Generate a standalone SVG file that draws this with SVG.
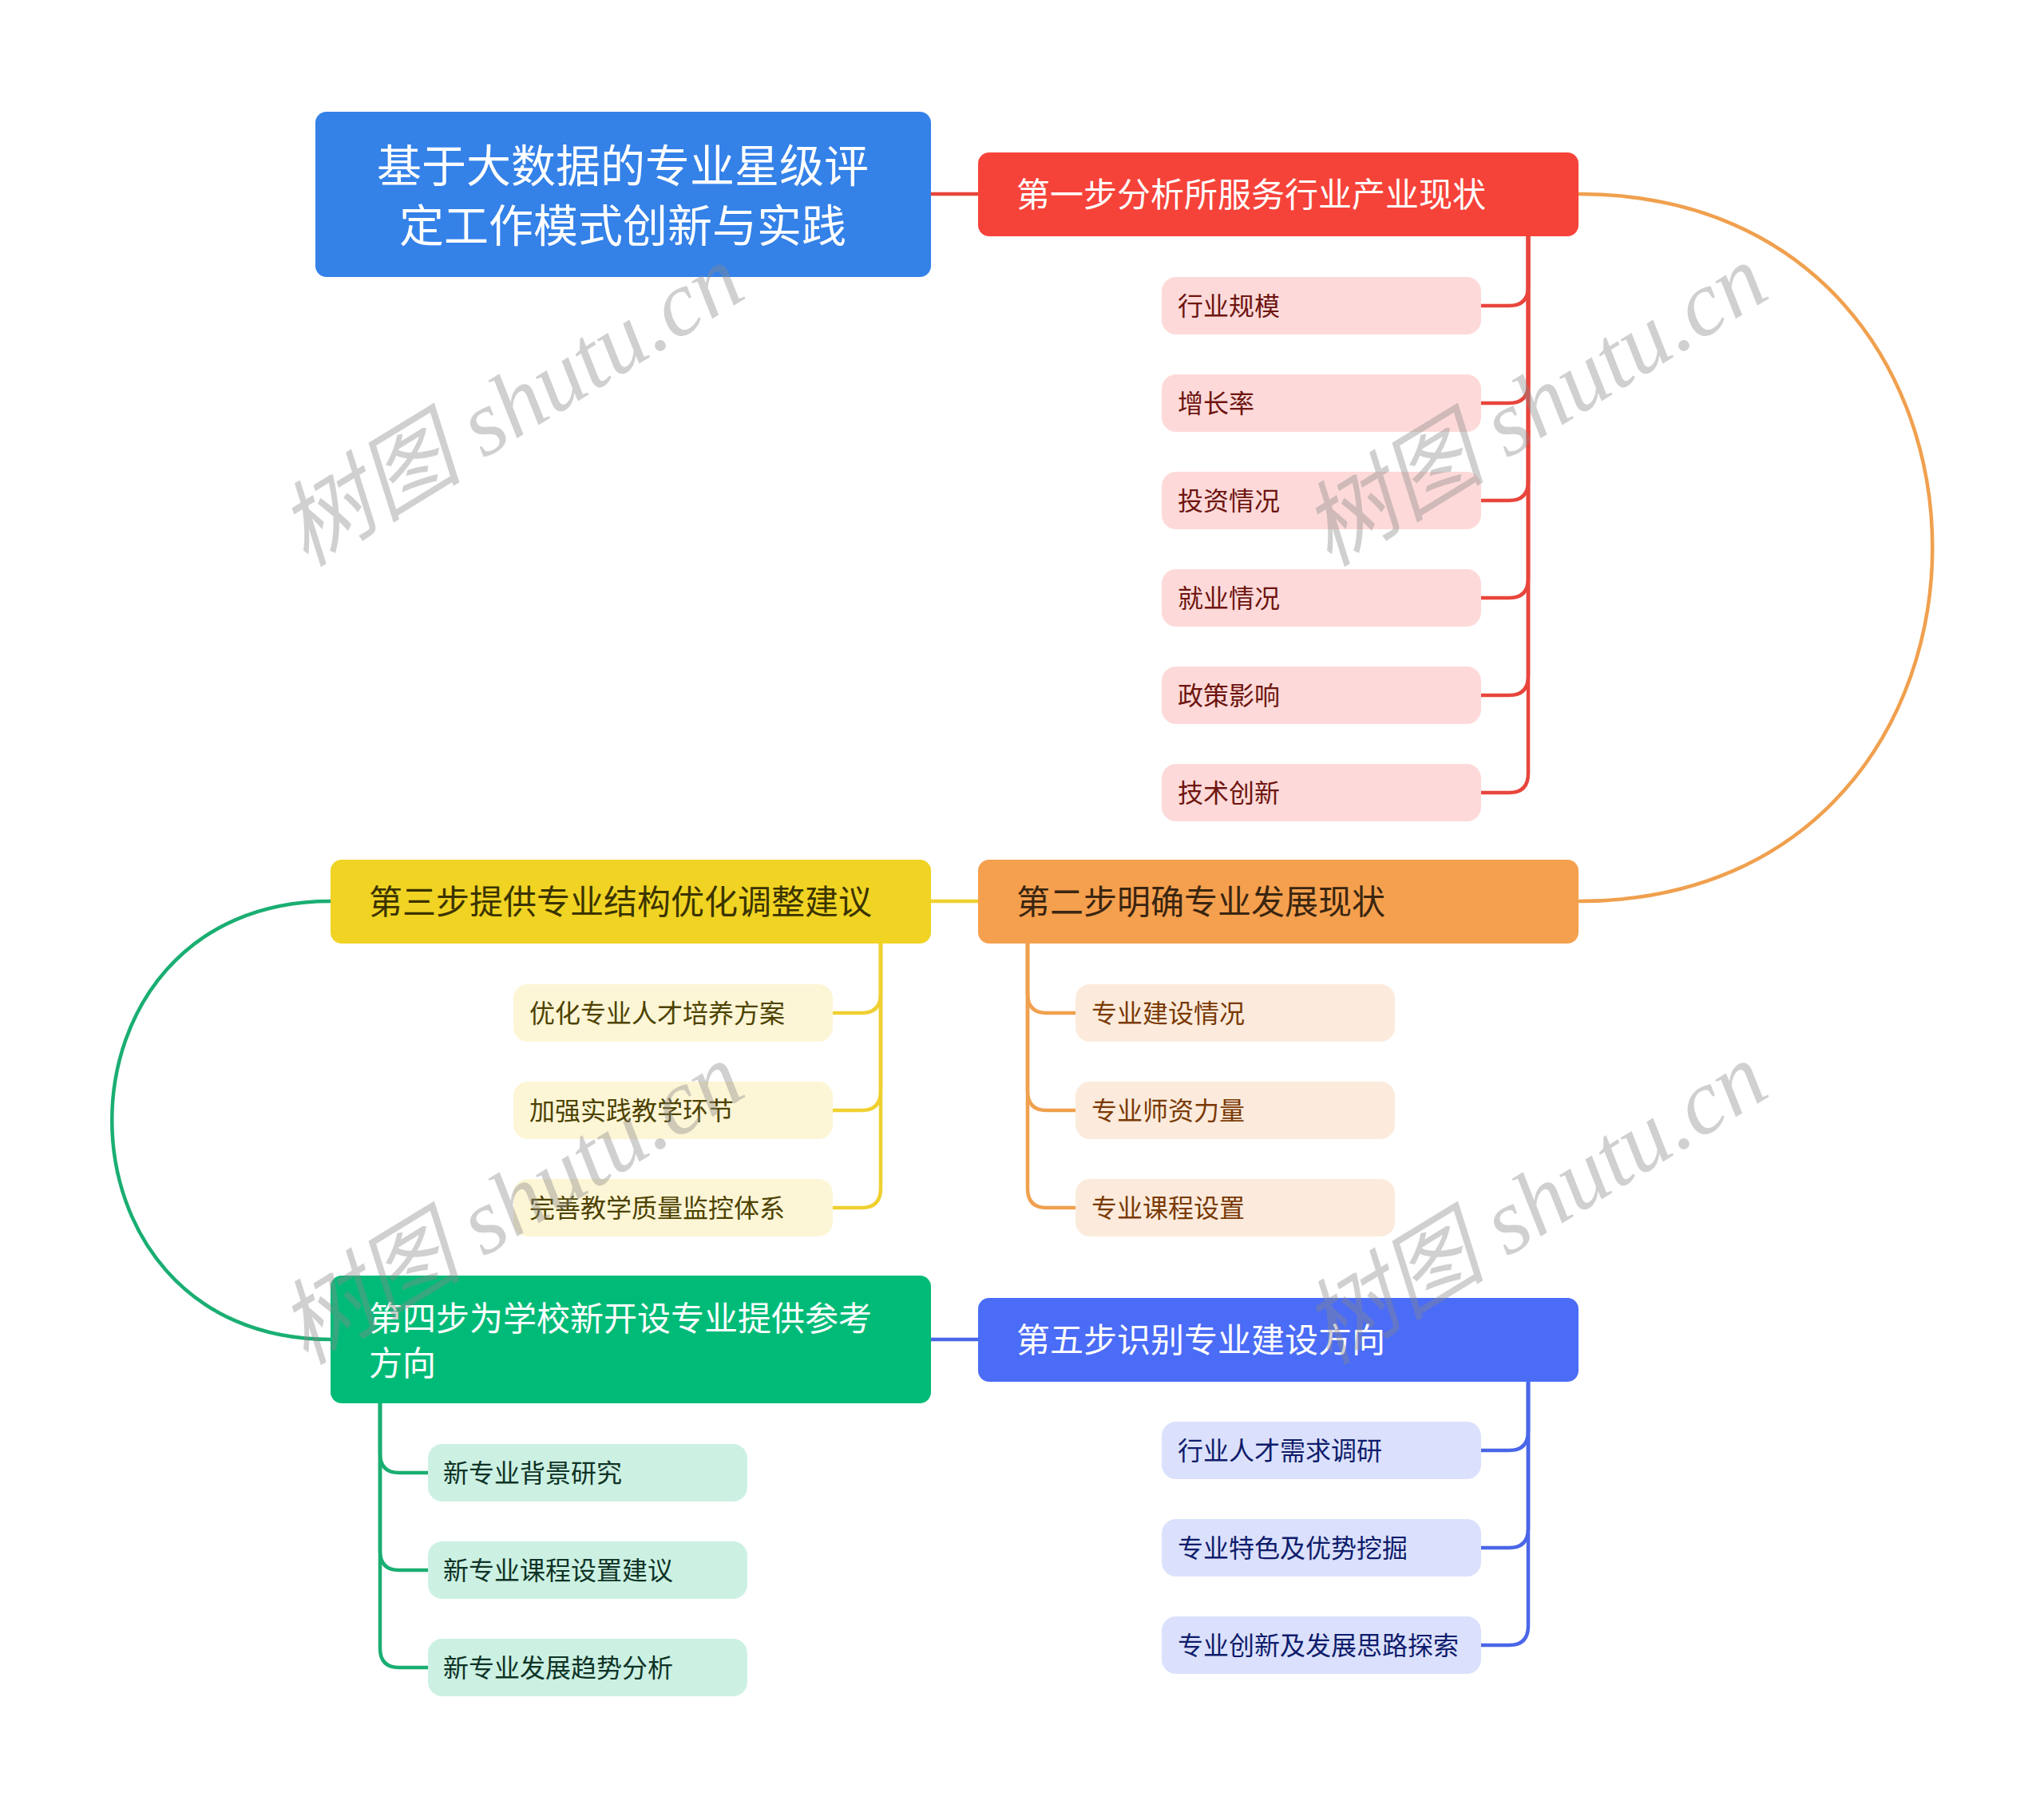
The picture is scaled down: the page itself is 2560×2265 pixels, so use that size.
<svg xmlns="http://www.w3.org/2000/svg" width="2560" height="2265" viewBox="0 0 2560 2265">
<style>
text{font-family:"Noto Sans CJK SC","Noto Sans",sans-serif;dominant-baseline:central}
.main{font-size:42px}
.root{font-size:56px;fill:#fff;text-anchor:middle}
.sub{font-size:32px}
.c{fill:none;stroke-width:4.5;stroke-linecap:round}
.wm{font-family:"Liberation Serif","Noto Sans CJK SC",serif;font-style:italic;font-size:116px;fill:#8a8a8a;fill-opacity:0.4;text-anchor:middle}
</style>
<rect width="2560" height="2265" fill="#fff"/>
<g id="connectors">
<path class="c" stroke="#E8453C" d="M1166,243 H1225"/>
<path class="c" stroke="#F0A04E" d="M1977,243 C2568,243 2568,1129 1977,1129"/>
<path class="c" stroke="#EFD030" d="M1166,1129 H1225"/>
<path class="c" stroke="#1AAE72" d="M414,1129 C49,1129 49,1678 414,1678"/>
<path class="c" stroke="#4A66E8" d="M1166,1678 H1225"/>
<g stroke="#E8453C">
<path class="c" d="M1914,296 V359 Q1914,383 1890,383 H1855"/>
<path class="c" d="M1914,296 V481 Q1914,505 1890,505 H1855"/>
<path class="c" d="M1914,296 V603 Q1914,627 1890,627 H1855"/>
<path class="c" d="M1914,296 V725 Q1914,749 1890,749 H1855"/>
<path class="c" d="M1914,296 V847 Q1914,871 1890,871 H1855"/>
<path class="c" d="M1914,296 V969 Q1914,993 1890,993 H1855"/>
</g>
<g stroke="#EFD030">
<path class="c" d="M1103,1182 V1245 Q1103,1269 1079,1269 H1043"/>
<path class="c" d="M1103,1182 V1367 Q1103,1391 1079,1391 H1043"/>
<path class="c" d="M1103,1182 V1489 Q1103,1513 1079,1513 H1043"/>
</g>
<g stroke="#F0A04E">
<path class="c" d="M1287,1182 V1245 Q1287,1269 1311,1269 H1347"/>
<path class="c" d="M1287,1182 V1367 Q1287,1391 1311,1391 H1347"/>
<path class="c" d="M1287,1182 V1489 Q1287,1513 1311,1513 H1347"/>
</g>
<g stroke="#1AAE72">
<path class="c" d="M476,1758 V1821 Q476,1845 500,1845 H536"/>
<path class="c" d="M476,1758 V1943 Q476,1967 500,1967 H536"/>
<path class="c" d="M476,1758 V2065 Q476,2089 500,2089 H536"/>
</g>
<g stroke="#4A66E8">
<path class="c" d="M1914,1731 V1793 Q1914,1817 1890,1817 H1855"/>
<path class="c" d="M1914,1731 V1915 Q1914,1939 1890,1939 H1855"/>
<path class="c" d="M1914,1731 V2037 Q1914,2061 1890,2061 H1855"/>
</g>
</g>
<g id="root">
<rect x="395" y="140" width="771" height="207" rx="14" fill="#3481E8"/>
<text class="root" x="780" y="203">基于大数据的专业星级评</text>
<text class="root" x="780" y="278">定工作模式创新与实践</text>
</g>
<g id="step1">
<rect x="1225" y="191" width="752" height="105" rx="14" fill="#F6433A"/>
<text class="main" x="1273" y="240" fill="#fff">第一步分析所服务行业产业现状</text>
</g>
<g id="s1c1"><rect x="1455" y="347" width="400" height="72" rx="18" fill="#FDDAD9"/><text class="sub" x="1475" y="381" fill="#6E1510">行业规模</text></g>
<g id="s1c2"><rect x="1455" y="469" width="400" height="72" rx="18" fill="#FDDAD9"/><text class="sub" x="1475" y="503" fill="#6E1510">增长率</text></g>
<g id="s1c3"><rect x="1455" y="591" width="400" height="72" rx="18" fill="#FDDAD9"/><text class="sub" x="1475" y="625" fill="#6E1510">投资情况</text></g>
<g id="s1c4"><rect x="1455" y="713" width="400" height="72" rx="18" fill="#FDDAD9"/><text class="sub" x="1475" y="747" fill="#6E1510">就业情况</text></g>
<g id="s1c5"><rect x="1455" y="835" width="400" height="72" rx="18" fill="#FDDAD9"/><text class="sub" x="1475" y="869" fill="#6E1510">政策影响</text></g>
<g id="s1c6"><rect x="1455" y="957" width="400" height="72" rx="18" fill="#FDDAD9"/><text class="sub" x="1475" y="991" fill="#6E1510">技术创新</text></g>
<g id="step2">
<rect x="1225" y="1077" width="752" height="105" rx="14" fill="#F5A04E"/>
<text class="main" x="1273" y="1126" fill="#3A2510">第二步明确专业发展现状</text>
</g>
<g id="s2c1"><rect x="1347" y="1233" width="400" height="72" rx="18" fill="#FCEBDC"/><text class="sub" x="1367" y="1267" fill="#7A3A05">专业建设情况</text></g>
<g id="s2c2"><rect x="1347" y="1355" width="400" height="72" rx="18" fill="#FCEBDC"/><text class="sub" x="1367" y="1389" fill="#7A3A05">专业师资力量</text></g>
<g id="s2c3"><rect x="1347" y="1477" width="400" height="72" rx="18" fill="#FCEBDC"/><text class="sub" x="1367" y="1511" fill="#7A3A05">专业课程设置</text></g>
<g id="step3">
<rect x="414" y="1077" width="752" height="105" rx="14" fill="#F0D323"/>
<text class="main" x="462" y="1126" fill="#3B3300">第三步提供专业结构优化调整建议</text>
</g>
<g id="s3c1"><rect x="643" y="1233" width="400" height="72" rx="18" fill="#FDF6D6"/><text class="sub" x="663" y="1267" fill="#4D4200">优化专业人才培养方案</text></g>
<g id="s3c2"><rect x="643" y="1355" width="400" height="72" rx="18" fill="#FDF6D6"/><text class="sub" x="663" y="1389" fill="#4D4200">加强实践教学环节</text></g>
<g id="s3c3"><rect x="643" y="1477" width="400" height="72" rx="18" fill="#FDF6D6"/><text class="sub" x="663" y="1511" fill="#4D4200">完善教学质量监控体系</text></g>
<g id="step4">
<rect x="414" y="1598" width="752" height="160" rx="14" fill="#00BB78"/>
<text class="main" x="462" y="1648" fill="#fff">第四步为学校新开设专业提供参考</text>
<text class="main" x="462" y="1704" fill="#fff">方向</text>
</g>
<g id="s4c1"><rect x="536" y="1809" width="400" height="72" rx="18" fill="#CCF1E3"/><text class="sub" x="555" y="1843" fill="#0F3326">新专业背景研究</text></g>
<g id="s4c2"><rect x="536" y="1931" width="400" height="72" rx="18" fill="#CCF1E3"/><text class="sub" x="555" y="1965" fill="#0F3326">新专业课程设置建议</text></g>
<g id="s4c3"><rect x="536" y="2053" width="400" height="72" rx="18" fill="#CCF1E3"/><text class="sub" x="555" y="2087" fill="#0F3326">新专业发展趋势分析</text></g>
<g id="step5">
<rect x="1225" y="1626" width="752" height="105" rx="14" fill="#4A6CF6"/>
<text class="main" x="1273" y="1675" fill="#fff">第五步识别专业建设方向</text>
</g>
<g id="s5c1"><rect x="1455" y="1781" width="400" height="72" rx="18" fill="#DBE1FC"/><text class="sub" x="1475" y="1815" fill="#0F1C6B">行业人才需求调研</text></g>
<g id="s5c2"><rect x="1455" y="1903" width="400" height="72" rx="18" fill="#DBE1FC"/><text class="sub" x="1475" y="1937" fill="#0F1C6B">专业特色及优势挖掘</text></g>
<g id="s5c3"><rect x="1455" y="2025" width="400" height="72" rx="18" fill="#DBE1FC"/><text class="sub" x="1475" y="2059" fill="#0F1C6B">专业创新及发展思路探索</text></g>
<g id="watermark">
<text class="wm" transform="translate(640,508) rotate(-31.5)">树图 shutu.cn</text>
<text class="wm" transform="translate(1922,508) rotate(-31.5)">树图 shutu.cn</text>
<text class="wm" transform="translate(640,1508) rotate(-31.5)">树图 shutu.cn</text>
<text class="wm" transform="translate(1922,1508) rotate(-31.5)">树图 shutu.cn</text>
</g>
</svg>
